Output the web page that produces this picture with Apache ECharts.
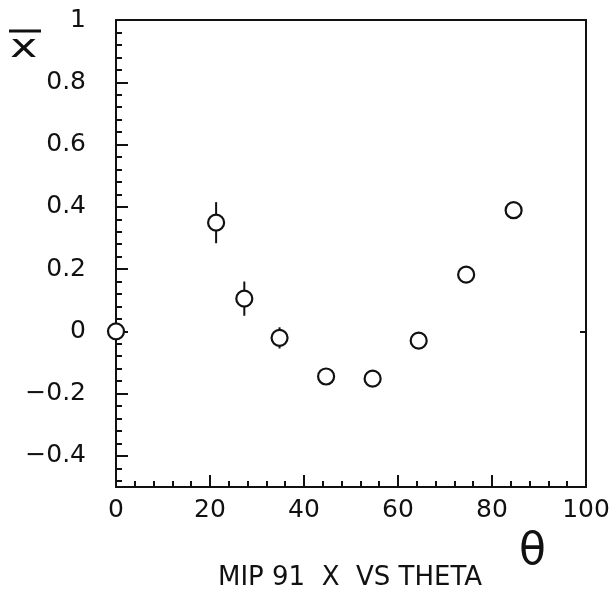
<!DOCTYPE html>
<html>
<head>
<meta charset="utf-8">
<script src="https://cdn.jsdelivr.net/npm/echarts@6/dist/echarts.min.js"></script>
<style>
  html, body { margin: 0; padding: 0; background: #fff; }
  #chart { width: 616px; height: 597px; }
</style>
</head>
<body>
<div id="chart"></div>
<script>
// Mean x measured at each theta angle, with vertical uncertainties
const theta = [0, 21.3, 27.3, 34.8, 44.7, 54.6, 64.4, 74.5, 84.6];
const xMean = [0, 0.349, 0.105, -0.021, -0.145, -0.152, -0.030, 0.182, 0.389];
const xErr = [0, 0.066, 0.055, 0.034, 0.02, 0.02, 0.02, 0.02, 0.02];

const xTicks = [0, 20, 40, 60, 80, 100];
const yTicks = [-0.4, -0.2, 0, 0.2, 0.4, 0.6, 0.8, 1];
const titleText = 'MIP 91  X  VS THETA';

const FONT = 'DejaVu Sans';
const INK = '#111';

const points = theta.map((t, i) => [t, xMean[i]]);
const errRows = theta.map((t, i) => [t, xMean[i] - xErr[i], xMean[i] + xErr[i]]);

const chart = echarts.init(document.getElementById('chart'), null, { renderer: 'canvas' });

const option = {
  backgroundColor: '#fff',
  animation: false,
  grid: { left: 116, right: 30, top: 20, bottom: 110, containLabel: false },
  xAxis: [
    {
      type: 'value', min: xTicks[0], max: xTicks[xTicks.length - 1], interval: 20,
      position: 'bottom',
      axisLine: { show: true, onZero: false, lineStyle: { color: INK, width: 2 } },
      axisTick: { show: true, inside: true, length: 12, lineStyle: { color: INK, width: 2 } },
      minorTick: { show: true, splitNumber: 5, length: 6, lineStyle: { color: INK, width: 2 } },
      axisLabel: { color: INK, fontFamily: FONT, fontSize: 25, margin: 11 },
      splitLine: { show: false }
    },
    {
      type: 'value', min: 0, max: 100, position: 'top',
      axisLine: { show: true, onZero: false, lineStyle: { color: INK, width: 2 } },
      axisTick: { show: false }, axisLabel: { show: false }, splitLine: { show: false }
    }
  ],
  yAxis: [
    {
      type: 'value', min: -0.5, max: 1, splitNumber: 7,
      position: 'left',
      axisLine: { show: true, onZero: false, lineStyle: { color: INK, width: 2 } },
      axisTick: { show: true, inside: true, length: 12, lineStyle: { color: INK, width: 2 } },
      minorTick: { show: true, splitNumber: 5, length: 6, lineStyle: { color: INK, width: 2 } },
      axisLabel: {
        color: INK, fontFamily: FONT, fontSize: 25, margin: 30,
        showMinLabel: false,
        formatter: v => {
          const r = Math.round(v * 10) / 10;
          if (!yTicks.some(t => Math.abs(t - r) < 1e-9)) return '';
          return String(r).replace('-', '\u2212');
        }
      },
      splitLine: { show: false }
    },
    {
      type: 'value', min: -0.5, max: 1, position: 'right',
      axisLine: { show: true, onZero: false, lineStyle: { color: INK, width: 2 } },
      axisTick: { show: true, inside: true, length: 6, customValues: [0], lineStyle: { color: INK, width: 2 } },
      axisLabel: { show: false }, splitLine: { show: false }
    }
  ],
  series: [
    {
      type: 'custom',
      name: 'err',
      xAxisIndex: 0, yAxisIndex: 0,
      data: errRows,
      clip: false,
      z: 2,
      renderItem: (params, api) => {
        const p0 = api.coord([api.value(0), api.value(1)]);
        const p1 = api.coord([api.value(0), api.value(2)]);
        return {
          type: 'line',
          shape: { x1: p0[0], y1: p0[1], x2: p1[0], y2: p1[1] },
          style: { stroke: INK, lineWidth: 2 }
        };
      }
    },
    {
      type: 'scatter',
      xAxisIndex: 0, yAxisIndex: 0,
      data: points,
      symbol: 'circle',
      symbolSize: 16,
      clip: false,
      z: 3,
      itemStyle: { color: '#fff', borderColor: INK, borderWidth: 2.2, opacity: 1 }
    }
  ],
  graphic: [
    {
      type: 'text', left: 218, top: 565,
      style: { text: titleText, font: '26px "DejaVu Sans"', fill: INK }
    },
    {
      type: 'text', left: 519, top: 531,
      style: { text: '\u03B8', font: '44px "DejaVu Sans"', fill: INK }
    },
    {
      type: 'line',
      shape: { x1: 9, y1: 31, x2: 41, y2: 31 },
      style: { stroke: INK, lineWidth: 3 }
    },
    {
      type: 'text', x: 10, y: 33, scaleX: 1.45,
      style: { text: 'x', font: '32px "DejaVu Sans"', fill: INK }
    }
  ]
};

chart.setOption(option);
</script>
</body>
</html>
